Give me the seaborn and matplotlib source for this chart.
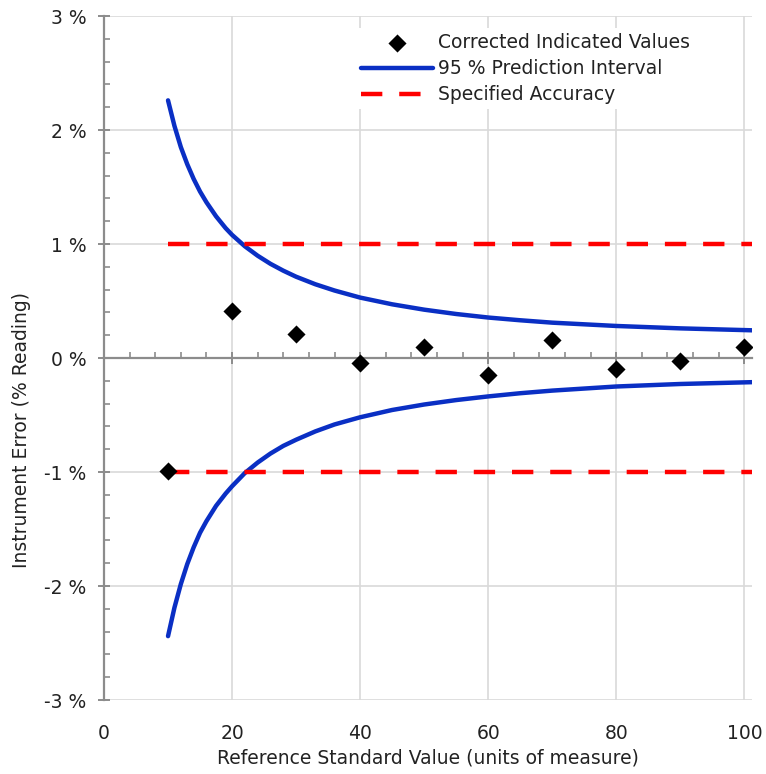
import numpy as np
import pandas as pd
import matplotlib
matplotlib.use("Agg")
import matplotlib.pyplot as plt
from matplotlib.ticker import MultipleLocator
import seaborn as sns

# Datos
ref_value = [10, 20, 30, 40, 50, 60, 70, 80, 90, 100]
error_pct = [-0.99, 0.41, 0.21, -0.04, 0.10, -0.15, 0.16, -0.10, -0.03, 0.10]

pi_x = [10, 11, 12, 13, 14, 15, 16, 17.5, 19, 20, 22, 24, 26, 28, 30, 33, 36, 40, 45, 50,
        55, 60, 65, 70, 80, 90, 101.2]
pi_upper = [2.26, 2.036, 1.85, 1.70, 1.571, 1.46, 1.366, 1.243, 1.139, 1.08, 0.98, 0.897,
            0.826, 0.766, 0.713, 0.647, 0.592, 0.53, 0.471, 0.424, 0.386, 0.355, 0.331,
            0.31, 0.281, 0.26, 0.243]
pi_lower = [-2.44, -2.19, -1.983, -1.808, -1.661, -1.533, -1.431, -1.297, -1.189, -1.125,
            -1.009, -0.917, -0.838, -0.771, -0.717, -0.644, -0.583, -0.52, -0.456, -0.408,
            -0.369, -0.337, -0.309, -0.286, -0.25, -0.228, -0.212]

acc_x = [10, 101.2]
acc_limit = 1.0

y_ticks = [-3, -2, -1, 0, 1, 2, 3]
x_ticks = [0, 20, 40, 60, 80, 100]

sns.set_style("white")
plt.rcParams["font.family"] = ["DejaVu Sans"]
fs = 13.5
txt = "#222222"

pts = pd.DataFrame({"x": ref_value, "y": error_pct})
pi = pd.DataFrame({"x": pi_x, "up": pi_upper, "lo": pi_lower})
acc = pd.DataFrame({"x": acc_x, "up": [acc_limit] * 2, "lo": [-acc_limit] * 2})

fig = plt.figure(figsize=(7.66, 7.74), dpi=100)
ax = fig.add_axes([104 / 766, 74 / 774, 648 / 766, 684 / 774])

blue = "#0a2fc4"
red = "#ff0000"
grey = "#8c8c8c"

sns.lineplot(data=pi, x="x", y="up", ax=ax, color=blue, lw=3.2, label="95 % Prediction Interval",
             sort=False, zorder=3)
sns.lineplot(data=pi, x="x", y="lo", ax=ax, color=blue, lw=3.2, sort=False, zorder=3)
sns.lineplot(data=acc, x="x", y="up", ax=ax, color=red, lw=3.2,
             label="Specified Accuracy", zorder=4)
sns.lineplot(data=acc, x="x", y="lo", ax=ax, color=red, lw=3.2, zorder=4)
for ln in ax.lines[:2]:
    ln.set_solid_joinstyle("round")
for ln in ax.lines[2:4]:
    ln.set_dashes((4.8, 3.8))
    ln.set_dash_capstyle("butt")
sns.scatterplot(data=pts, x="x", y="y", ax=ax, marker="D", s=85, color="black",
                edgecolor="black", linewidth=0, label="Corrected Indicated Values", zorder=5)

ax.set_xlim(0, 101.2)
ax.set_ylim(-3, 3)
ax.set_xticks(x_ticks)
ax.xaxis.set_minor_locator(MultipleLocator(4))
ax.set_yticks(y_ticks)
ax.yaxis.set_minor_locator(MultipleLocator(0.2))
ax.set_yticklabels([f"{v} %" for v in y_ticks])
ax.grid(True, which="major", color="#d9d9d9", lw=1.2)
ax.set_axisbelow(True)

for s in ["top", "right"]:
    ax.spines[s].set_visible(False)
ax.spines["bottom"].set_position(("data", 0))
for s in ["bottom", "left"]:
    ax.spines[s].set_color(grey)
    ax.spines[s].set_linewidth(1.6)

ax.tick_params(axis="x", which="both", bottom=True, top=False)
ax.tick_params(axis="y", which="both", left=True, right=False)
ax.tick_params(axis="x", which="major", direction="inout", length=9, width=1.4, color=grey,
               labelbottom=False)
ax.tick_params(axis="x", which="minor", direction="in", length=4.5, width=1.2, color=grey)
ax.tick_params(axis="y", which="major", direction="inout", length=9, width=1.4, color=grey,
               labelsize=fs, pad=8, labelcolor=txt)
ax.tick_params(axis="y", which="minor", direction="in", length=4.5, width=1.2, color=grey)

sec = ax.secondary_xaxis("bottom")
sec.set_xticks(x_ticks)
sec.tick_params(length=0, pad=17.5, labelsize=fs, labelcolor=txt)
sec.spines["bottom"].set_visible(False)
sec.set_xlabel("Reference Standard Value (units of measure)", fontsize=fs, color=txt,
               labelpad=4)
ax.set_xlabel("")
ax.set_ylabel("Instrument Error (% Reading)", fontsize=fs, color=txt)
ax.yaxis.set_label_coords(-0.113, 0.395)

handles, labels = ax.get_legend_handles_labels()
order = [labels.index("Corrected Indicated Values"), labels.index("95 % Prediction Interval"),
         labels.index("Specified Accuracy")]
leg = ax.legend([handles[i] for i in order], [labels[i] for i in order], loc="upper left",
                bbox_to_anchor=(0.39, 0.982), fontsize=fs, frameon=True, fancybox=False,
                framealpha=1, edgecolor="none", facecolor="white", handlelength=3.8,
                handletextpad=0.3, labelspacing=0.38, borderpad=0.25, borderaxespad=0)
for t in leg.get_texts():
    t.set_color(txt)

plt.savefig("out.png", dpi=100)
plt.close()
